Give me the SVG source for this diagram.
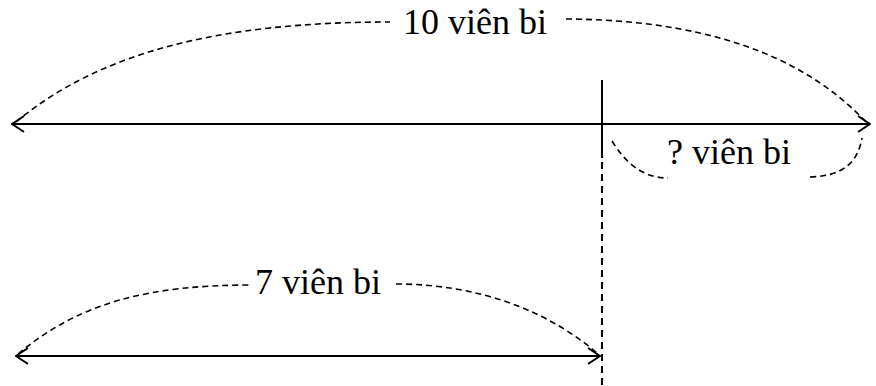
<svg xmlns="http://www.w3.org/2000/svg" width="876" height="386" viewBox="0 0 876 386">
<style>
.solid{stroke:#000;stroke-width:2;fill:none}
.dash{stroke:#000;stroke-width:1.6;fill:none;stroke-dasharray:6,4}
.vdash{stroke:#000;stroke-width:2;fill:none;stroke-dasharray:7,5}
.lbl{font-family:"Liberation Serif","Times New Roman",serif;font-size:36px;fill:#000}
</style>
<defs>
<marker id="arr" viewBox="0 0 14 18" refX="13" refY="9" markerWidth="14" markerHeight="18" markerUnits="userSpaceOnUse" orient="auto-start-reverse">
<path d="M1,1 L13,9 L1,17" fill="none" stroke="#000" stroke-width="2"/>
</marker>
</defs>
<g id="connectors">
<line class="solid" x1="12" y1="124" x2="870" y2="124" marker-start="url(#arr)" marker-end="url(#arr)"/>
<line class="solid" x1="16" y1="356" x2="600" y2="356" marker-start="url(#arr)" marker-end="url(#arr)"/>
<line class="solid" x1="602" y1="80" x2="602" y2="158"/>
<line class="vdash" x1="602" y1="162" x2="602" y2="386"/>
<path class="dash" d="M16,122 C100,52 220,22 390,22"/>
<path class="dash" d="M566,19 C700,20 800,52 866,122"/>
<path class="dash" d="M612,141 C625,162 642,178 668,178"/>
<path class="dash" d="M810,177 C846,176 858,160 862,138"/>
<path class="dash" d="M18,354 C80,302 150,285 252,285"/>
<path class="dash" d="M396,284 C480,284 550,312 598,354"/>
</g>
<g id="label-10"><text class="lbl" x="403" y="34">10 viên bi</text></g>
<g id="label-q"><text class="lbl" x="667" y="164">? viên bi</text></g>
<g id="label-7"><text class="lbl" x="255" y="294">7 viên bi</text></g>
</svg>
